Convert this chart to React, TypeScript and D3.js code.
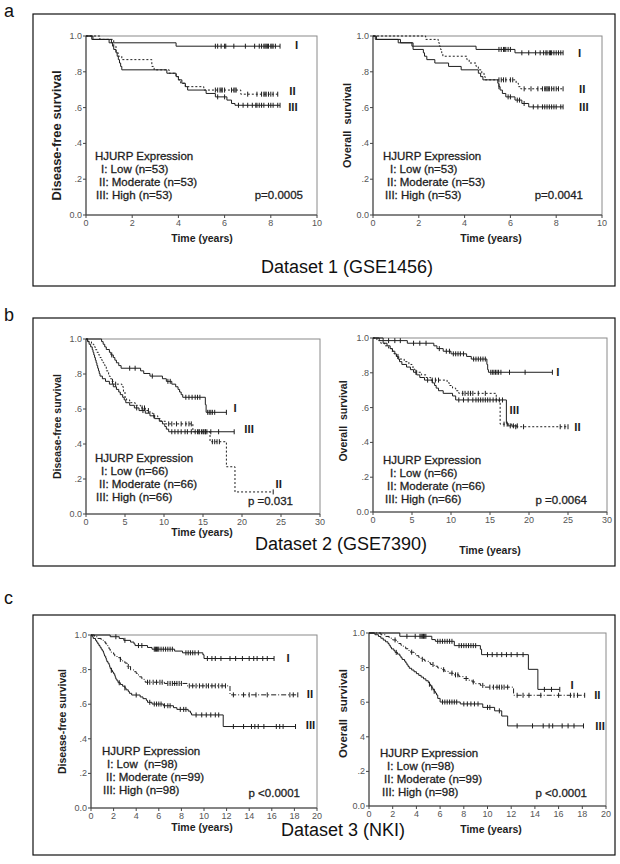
import React from 'react';
import * as d3 from 'd3';

type Step = [number, number];

// ---------- Panel a (GSE1456) ----------
const aDfsI_steps: Step[] = [[0.25, 0.981], [1.0, 0.962], [3.9, 0.943]];
const aDfsI_cens = [5.6, 5.7, 5.85, 6.0, 6.05, 6.4, 6.9, 7.3, 7.5, 7.6, 7.7, 7.75, 7.8, 7.85, 7.9, 8.0, 8.05, 8.1, 8.2, 8.4];
const aDfsII_steps: Step[] = [[0.6, 0.981], [1.2, 0.943], [1.3, 0.906], [1.4, 0.887], [1.55, 0.868], [2.85, 0.83], [2.95, 0.811], [3.6, 0.792], [3.9, 0.773], [4.0, 0.755], [4.1, 0.736], [4.3, 0.717], [5.1, 0.698], [6.7, 0.675]];
const aDfsII_cens = [5.6, 5.7, 5.8, 5.85, 5.9, 6.0, 6.3, 6.4, 6.45, 6.5, 7.0, 7.4, 7.6, 7.7, 7.75, 7.8, 7.9, 8.0, 8.1, 8.3];
const aDfsIII_steps: Step[] = [[0.3, 0.981], [1.1, 0.962], [1.15, 0.943], [1.2, 0.925], [1.3, 0.906], [1.35, 0.887], [1.4, 0.868], [1.45, 0.849], [1.5, 0.83], [1.55, 0.811], [3.5, 0.792], [3.9, 0.773], [4.0, 0.755], [4.15, 0.736], [4.3, 0.717], [4.4, 0.698], [5.2, 0.679], [5.6, 0.66], [6.1, 0.642], [6.3, 0.623], [6.45, 0.613]];
const aDfsIII_cens = [5.7, 6.0, 6.6, 6.8, 7.0, 7.2, 7.35, 7.4, 7.5, 7.6, 7.7, 7.9, 8.0, 8.1, 8.3, 8.4];

const aOsI_steps: Step[] = [[0.15, 0.981], [1.2, 0.962], [1.75, 0.943], [4.5, 0.925], [6.2, 0.906]];
const aOsI_cens = [5.5, 5.6, 5.7, 5.75, 5.8, 5.9, 6.0, 6.5, 6.8, 7.1, 7.3, 7.45, 7.55, 7.6, 7.7, 7.75, 7.8, 7.9, 8.0, 8.1, 8.2, 8.3];
const aOsII_steps: Step[] = [[2.3, 0.981], [2.85, 0.962], [2.9, 0.943], [2.95, 0.925], [3.0, 0.906], [3.05, 0.887], [4.1, 0.868], [4.2, 0.849], [4.5, 0.83], [4.6, 0.811], [4.75, 0.792], [4.85, 0.773], [4.9, 0.755], [6.25, 0.736], [6.35, 0.717], [6.45, 0.705]];
const aOsII_cens = [5.5, 5.6, 5.7, 5.8, 6.0, 6.1, 6.6, 6.9, 7.2, 7.4, 7.5, 7.55, 7.6, 7.65, 7.7, 7.8, 7.9, 8.0, 8.1, 8.3];
const aOsIII_steps: Step[] = [[0.1, 0.981], [1.1, 0.962], [1.7, 0.943], [1.75, 0.925], [2.2, 0.906], [2.25, 0.887], [2.35, 0.868], [2.7, 0.849], [3.3, 0.83], [3.85, 0.811], [4.6, 0.792], [4.7, 0.773], [4.8, 0.755], [5.45, 0.736], [5.5, 0.717], [5.55, 0.698], [5.65, 0.679], [5.8, 0.66], [6.2, 0.642], [6.5, 0.623], [6.8, 0.604]];
const aOsIII_cens = [5.5, 5.9, 6.0, 6.3, 6.4, 6.6, 7.0, 7.2, 7.4, 7.5, 7.6, 7.7, 7.8, 7.9, 8.0, 8.2, 8.3];

// ---------- Panel b (GSE7390) ----------
const bDfsI_steps: Step[] = [[2.0, 0.985], [2.2, 0.97], [2.4, 0.955], [2.6, 0.94], [3.0, 0.924], [3.2, 0.909], [3.5, 0.894], [3.7, 0.879], [3.9, 0.864], [4.2, 0.848], [4.5, 0.833], [7.0, 0.818], [7.4, 0.803], [8.2, 0.788], [9.8, 0.773], [10.3, 0.758], [11.0, 0.742], [11.5, 0.727], [11.8, 0.712], [12.0, 0.697], [12.2, 0.682], [12.4, 0.667], [15.3, 0.625], [15.4, 0.581]];
const bDfsI_cens = [3.3, 5.6, 6.3, 8.5, 10.5, 10.8, 12.8, 13.2, 13.6, 14.0, 14.3, 14.6, 15.6, 15.8, 16.0, 16.2, 16.5, 18.0];
const bDfsII_steps: Step[] = [[0.3, 0.985], [0.7, 0.97], [1.0, 0.955], [1.2, 0.939], [1.4, 0.924], [1.6, 0.909], [1.8, 0.894], [2.0, 0.879], [2.2, 0.864], [2.4, 0.848], [2.6, 0.818], [2.9, 0.788], [3.1, 0.773], [3.3, 0.758], [3.5, 0.742], [4.6, 0.727], [4.8, 0.697], [5.0, 0.667], [5.2, 0.652], [5.6, 0.636], [6.3, 0.621], [7.0, 0.606], [7.6, 0.591], [8.2, 0.576], [8.6, 0.561], [9.2, 0.545], [9.6, 0.53], [10.2, 0.515], [13.7, 0.47], [15.9, 0.413], [18.0, 0.27], [19.1, 0.126]];
const bDfsII_cens = [3.4, 3.8, 7.2, 7.5, 8.0, 8.7, 10.6, 11.0, 11.6, 12.2, 12.8, 13.2, 13.5, 14.5, 15.0, 15.3, 16.2, 16.5, 16.8, 17.1, 24.0];
const bDfsIII_steps: Step[] = [[0.2, 0.985], [0.4, 0.97], [0.6, 0.955], [0.8, 0.939], [0.9, 0.924], [1.0, 0.909], [1.1, 0.894], [1.2, 0.879], [1.3, 0.864], [1.4, 0.848], [1.5, 0.833], [1.6, 0.818], [1.7, 0.803], [1.8, 0.788], [2.1, 0.773], [2.5, 0.758], [3.0, 0.742], [3.5, 0.727], [3.9, 0.712], [4.2, 0.697], [4.4, 0.682], [4.7, 0.667], [4.9, 0.652], [5.1, 0.636], [5.6, 0.621], [6.2, 0.606], [6.8, 0.591], [7.6, 0.576], [8.2, 0.561], [8.8, 0.545], [9.4, 0.53], [9.8, 0.515], [10.1, 0.5], [10.3, 0.485], [10.6, 0.47]];
const bDfsIII_cens = [6.5, 7.3, 11.0, 11.4, 11.8, 12.2, 12.7, 13.0, 13.5, 14.0, 14.3, 14.5, 14.8, 15.1, 15.3, 15.5, 16.0, 17.0, 19.0];

const bOsI_steps: Step[] = [[1.3, 0.985], [4.4, 0.97], [7.8, 0.955], [8.2, 0.939], [9.0, 0.924], [10.0, 0.909], [12.0, 0.894], [12.6, 0.879], [14.6, 0.848], [14.7, 0.818], [14.8, 0.803]];
const bOsI_cens = [2.0, 2.8, 3.5, 5.2, 6.0, 6.8, 8.5, 9.4, 9.8, 10.3, 10.6, 10.9, 11.2, 11.6, 12.9, 13.2, 13.5, 13.8, 14.1, 14.4, 15.1, 15.3, 15.5, 15.7, 15.9, 16.1, 16.4, 17.5, 19.5, 23.0];
const bOsII_steps: Step[] = [[0.5, 0.985], [1.0, 0.97], [1.5, 0.955], [2.0, 0.939], [2.4, 0.924], [2.7, 0.909], [3.0, 0.894], [3.3, 0.879], [4.0, 0.864], [4.6, 0.848], [5.0, 0.833], [5.3, 0.818], [5.6, 0.803], [6.2, 0.788], [6.8, 0.773], [7.4, 0.758], [9.5, 0.742], [9.8, 0.727], [10.2, 0.712], [10.6, 0.697], [11.0, 0.682], [15.8, 0.64], [16.3, 0.505], [17.8, 0.49]];
const bOsII_cens = [3.2, 7.6, 8.0, 8.4, 11.5, 11.8, 12.2, 12.5, 12.8, 13.5, 14.4, 16.8, 17.2, 18.3, 19.3, 24.0, 24.6, 25.0];
const bOsIII_steps: Step[] = [[0.8, 0.985], [1.3, 0.97], [1.8, 0.955], [2.2, 0.939], [2.5, 0.924], [2.8, 0.909], [3.0, 0.894], [3.2, 0.879], [3.4, 0.864], [3.7, 0.848], [4.3, 0.833], [4.8, 0.818], [5.2, 0.803], [5.6, 0.788], [6.0, 0.773], [6.6, 0.758], [7.6, 0.742], [7.9, 0.727], [8.1, 0.712], [8.4, 0.697], [9.0, 0.682], [10.2, 0.667], [10.6, 0.644], [17.1, 0.51], [17.3, 0.495]];
const bOsIII_cens = [5.5, 7.0, 11.0, 11.6, 12.2, 12.8, 13.2, 13.5, 13.8, 14.1, 14.4, 14.7, 15.0, 15.4, 15.8, 16.2, 16.6, 17.6, 18.0, 18.5];

// ---------- Panel c (NKI) ----------
const cDfsI_steps: Step[] = [[1.7, 0.99], [2.5, 0.98], [2.9, 0.969], [3.5, 0.959], [3.8, 0.949], [3.9, 0.939], [5.0, 0.928], [5.4, 0.918], [7.4, 0.907], [8.1, 0.897], [9.9, 0.886], [10.0, 0.864]];
const cDfsI_cens = [2.2, 3.0, 4.2, 4.5, 5.6, 5.7, 5.8, 5.9, 6.0, 6.2, 6.4, 6.6, 6.8, 7.0, 7.2, 8.4, 8.6, 8.8, 9.0, 9.2, 9.5, 10.3, 10.7, 11.0, 11.5, 12.3, 12.8, 13.4, 14.0, 14.4, 14.7, 15.2, 15.6, 16.2];
const cDfsII_steps: Step[] = [[0.3, 0.99], [0.6, 0.98], [0.9, 0.97], [1.1, 0.96], [1.3, 0.949], [1.4, 0.939], [1.5, 0.929], [1.6, 0.919], [1.7, 0.909], [1.8, 0.899], [2.0, 0.889], [2.1, 0.879], [2.3, 0.869], [2.6, 0.859], [2.8, 0.848], [3.0, 0.838], [3.2, 0.818], [3.5, 0.798], [3.8, 0.788], [4.0, 0.778], [4.2, 0.768], [4.3, 0.758], [4.5, 0.747], [4.7, 0.737], [4.8, 0.727], [6.5, 0.72], [8.5, 0.706], [12.3, 0.654]];
const cDfsII_cens = [2.6, 3.3, 5.0, 5.2, 5.5, 5.8, 6.1, 6.3, 6.8, 7.0, 7.2, 7.4, 7.6, 7.8, 8.0, 8.7, 9.0, 9.3, 9.6, 9.9, 10.2, 10.4, 10.7, 11.0, 11.3, 11.6, 11.9, 12.6, 13.5, 14.0, 14.6, 15.6, 17.6, 17.9, 18.3];
const cDfsIII_steps: Step[] = [[0.1, 0.99], [0.2, 0.98], [0.4, 0.969], [0.5, 0.959], [0.6, 0.949], [0.7, 0.939], [0.8, 0.929], [0.9, 0.918], [1.0, 0.908], [1.1, 0.898], [1.15, 0.888], [1.2, 0.878], [1.3, 0.867], [1.35, 0.857], [1.4, 0.847], [1.5, 0.837], [1.6, 0.827], [1.65, 0.816], [1.7, 0.806], [1.8, 0.796], [1.9, 0.786], [2.0, 0.776], [2.1, 0.765], [2.15, 0.755], [2.2, 0.745], [2.3, 0.735], [2.4, 0.724], [2.6, 0.714], [2.8, 0.704], [3.0, 0.694], [3.1, 0.683], [3.3, 0.673], [3.4, 0.663], [3.6, 0.653], [4.35, 0.642], [4.6, 0.632], [4.9, 0.622], [5.0, 0.611], [5.4, 0.601], [6.4, 0.591], [7.3, 0.58], [7.6, 0.57], [8.6, 0.56], [8.8, 0.549], [8.9, 0.538], [11.7, 0.471]];
const cDfsIII_cens = [1.8, 2.5, 3.0, 4.0, 5.2, 5.6, 5.8, 6.0, 6.2, 6.5, 6.8, 7.0, 7.9, 8.2, 8.4, 9.3, 9.8, 10.2, 10.6, 11.0, 11.3, 12.6, 13.5, 14.2, 14.5, 14.8, 15.3, 16.4, 16.7, 17.0, 18.1];

const cOsI_steps: Step[] = [[2.6, 0.981], [5.3, 0.962], [5.6, 0.952], [7.2, 0.927], [9.4, 0.906], [9.5, 0.875], [13.45, 0.79], [14.25, 0.674]];
const cOsI_cens = [3.2, 3.9, 4.3, 4.4, 4.5, 4.6, 4.7, 4.8, 5.8, 6.0, 6.2, 6.4, 6.6, 6.8, 7.0, 7.6, 7.8, 8.0, 8.2, 8.4, 8.6, 8.8, 9.0, 10.0, 10.4, 10.8, 11.2, 11.6, 12.0, 12.5, 13.0, 14.8, 15.4, 16.1];
const cOsII_steps: Step[] = [[1.0, 0.99], [1.4, 0.98], [1.7, 0.97], [2.0, 0.96], [2.3, 0.949], [2.5, 0.939], [2.7, 0.929], [2.9, 0.919], [3.1, 0.909], [3.3, 0.899], [3.5, 0.889], [3.8, 0.879], [4.0, 0.869], [4.2, 0.859], [4.4, 0.848], [4.7, 0.838], [5.0, 0.828], [5.2, 0.818], [5.5, 0.808], [5.8, 0.798], [6.1, 0.788], [6.4, 0.778], [6.7, 0.768], [7.1, 0.758], [7.6, 0.748], [8.0, 0.737], [8.4, 0.727], [8.7, 0.717], [9.0, 0.707], [9.4, 0.697], [9.8, 0.687], [12.2, 0.64]];
const cOsII_cens = [2.2, 3.6, 4.5, 5.4, 6.3, 7.0, 7.3, 7.5, 8.2, 8.8, 9.6, 10.2, 10.5, 10.8, 11.0, 11.2, 11.4, 11.7, 12.5, 13.0, 13.5, 14.5, 16.0, 17.0, 17.3, 17.6, 18.2];
const cOsIII_steps: Step[] = [[0.5, 0.99], [0.8, 0.98], [1.0, 0.97], [1.2, 0.959], [1.4, 0.949], [1.6, 0.939], [1.7, 0.929], [1.8, 0.918], [1.9, 0.908], [2.1, 0.898], [2.2, 0.888], [2.4, 0.878], [2.6, 0.867], [2.7, 0.857], [2.8, 0.847], [3.0, 0.837], [3.1, 0.827], [3.2, 0.816], [3.3, 0.806], [3.4, 0.796], [3.6, 0.786], [3.8, 0.776], [4.0, 0.765], [4.2, 0.755], [4.4, 0.745], [4.6, 0.735], [4.8, 0.724], [5.0, 0.714], [5.1, 0.704], [5.2, 0.694], [5.3, 0.683], [5.4, 0.673], [5.5, 0.663], [5.6, 0.653], [5.7, 0.642], [5.8, 0.622], [6.0, 0.601], [7.7, 0.59], [9.6, 0.57], [10.6, 0.55], [11.2, 0.52], [11.7, 0.463]];
const cOsIII_cens = [2.3, 5.1, 5.3, 5.5, 6.2, 6.4, 6.6, 6.8, 7.0, 7.2, 7.4, 8.0, 8.3, 8.6, 8.9, 9.2, 10.0, 10.2, 11.0, 12.5, 13.8, 14.7, 15.2, 15.5, 16.3, 16.8, 17.3, 18.1];

// ---------- ticks & texts ----------
const yTickValues = [0, 0.2, 0.4, 0.6, 0.8, 1.0];
const yTickLabels = ['0.0', '.2', '.4', '.6', '.8', '1.0'];
const yTickLabelsNkiOs = ['0.0', '.2', '4', '6', '8', '1.0'];
const xTicksA = [0, 2, 4, 6, 8, 10];
const xTicksB = [0, 5, 10, 15, 20, 25, 30];
const xTicksC = [0, 2, 4, 6, 8, 10, 12, 14, 16, 18, 20];
const groupLabels = ['I', 'II', 'III'];
const legendA = ['HJURP Expression', 'I: Low (n=53)', 'II: Moderate (n=53)', 'III: High (n=53)'];
const legendB = ['HJURP Expression', 'I: Low (n=66)', 'II: Moderate (n=66)', 'III: High (n=66)'];
const legendC1 = ['HJURP Expression', 'I: Low  (n=98)', 'II: Moderate (n=99)', 'III: High (n=98)'];
const legendC2 = ['HJURP Expression', 'I: Low (n=98)', 'II: Moderate (n=99)', 'III: High (n=98)'];
const pValues = ['p=0.0005', 'p=0.0041', 'p =0.031', 'p =0.0064', 'p <0.0001', 'p <0.0001'];
const datasetTitles = ['Dataset 1 (GSE1456)', 'Dataset 2 (GSE7390)', 'Dataset 3 (NKI)'];
const panelLetters = ['a', 'b', 'c'];

const FONT = "'Liberation Sans', Arial, Helvetica, sans-serif";
const INK = '#1e1e1e';

interface Curve { steps: Step[]; cens: number[]; dash?: string; lt: number; ls: number }
interface PlotCfg {
  x0: number; x1: number; yTop: number; yBot: number; xMax: number; xTicks: number[];
  yLabels: string[]; yTitle: string; yTitleSize: number; yTitleX: number; yTitleDy: number;
  curves: Curve[]; legend: string[]; legX: number; legY: number; legOff: number[];
  pText: string; pRight: number; pY: number; timeX: number; timeY: number;
}

function survAt(steps: Step[], t: number) {
  let s = 1;
  for (const [tt, ss] of steps) { if (tt <= t) s = ss; else break; }
  return s;
}

function Plot({ cfg }: { cfg: PlotCfg }) {
  const x = d3.scaleLinear().domain([0, cfg.xMax]).range([cfg.x0, cfg.x1]);
  const y = d3.scaleLinear().domain([0, 1]).range([cfg.yBot, cfg.yTop]);
  const line = d3.line<[number, number]>().x(d => x(d[0])).y(d => y(d[1])).curve(d3.curveStepAfter);
  const yMid = (cfg.yTop + cfg.yBot) / 2;
  return (
    <g>
      <rect x={cfg.x0} y={cfg.yTop} width={cfg.x1 - cfg.x0} height={cfg.yBot - cfg.yTop} fill="none" stroke="#8a8a8a" strokeWidth={1} />
      <line x1={cfg.x0} x2={cfg.x0} y1={cfg.yTop} y2={cfg.yBot} stroke="#444" />
      <line x1={cfg.x0} x2={cfg.x1} y1={cfg.yBot} y2={cfg.yBot} stroke="#444" />
      {yTickValues.map((v, i) => (
        <g key={'y' + i}>
          <line x1={cfg.x0 - 3} x2={cfg.x0} y1={y(v)} y2={y(v)} stroke="#444" />
          <text x={cfg.x0 - 4} y={y(v) + 3} textAnchor="end" fontSize={9} fill="#555" fontFamily={FONT}>{cfg.yLabels[i]}</text>
        </g>
      ))}
      {cfg.xTicks.map((v, i) => (
        <g key={'x' + i}>
          <line x1={x(v)} x2={x(v)} y1={cfg.yBot} y2={cfg.yBot + 3} stroke="#444" />
          <text x={x(v)} y={cfg.yBot + 11} textAnchor="middle" fontSize={9} fill="#555" fontFamily={FONT}>{v}</text>
        </g>
      ))}
      {cfg.curves.map((c, i) => {
        const last = c.steps.length ? c.steps[c.steps.length - 1][0] : 0;
        const end = Math.max(last, ...c.cens);
        const pts: [number, number][] = [[0, 1], ...c.steps.map(s => [s[0], s[1]] as [number, number]), [end, survAt(c.steps, end)]];
        return (
          <g key={'c' + i}>
            <path d={line(pts) || ''} fill="none" stroke={INK} strokeWidth={1} strokeDasharray={c.dash} />
            {c.cens.map((t, j) => (
              <line key={j} x1={x(t)} x2={x(t)} y1={y(survAt(c.steps, t)) - 2.5} y2={y(survAt(c.steps, t)) + 2.5} stroke={INK} strokeWidth={1} />
            ))}
            <text x={x(c.lt)} y={y(c.ls) + 4} fontSize={11.5} fontWeight="bold" fill={INK} fontFamily={FONT}>{groupLabels[i]}</text>
          </g>
        );
      })}
      <text transform={`translate(${cfg.yTitleX},${yMid + cfg.yTitleDy}) rotate(-90)`} textAnchor="middle" fontSize={cfg.yTitleSize} fontWeight="bold" fill={INK} fontFamily={FONT} style={{ whiteSpace: 'pre' }}>{cfg.yTitle}</text>
      <text x={cfg.timeX} y={cfg.timeY} textAnchor="middle" fontSize={10.5} fontWeight="bold" fill={INK} fontFamily={FONT}>Time (years)</text>
      {cfg.legend.map((t, i) => (
        <text key={'l' + i} x={cfg.legX + cfg.legOff[i]} y={cfg.legY + i * 13} fontSize={11.5} fill={INK} stroke={INK} strokeWidth={0.3} fontFamily={FONT} style={{ whiteSpace: 'pre' }}>{t}</text>
      ))}
      <text x={cfg.pRight} y={cfg.pY} textAnchor="end" fontSize={11.5} fill={INK} stroke={INK} strokeWidth={0.3} fontFamily={FONT}>{cfg.pText}</text>
    </g>
  );
}

const dotted = '2,2';
const dashDot = '5,2,1,2';

const plots: PlotCfg[] = [
  { x0: 86, x1: 317, yTop: 36, yBot: 215, xMax: 10, xTicks: xTicksA, yLabels: yTickLabels, yTitle: 'Disease-free survival', yTitleSize: 13, yTitleX: 61, yTitleDy: 10,
    curves: [
      { steps: aDfsI_steps, cens: aDfsI_cens, lt: 9.05, ls: 0.95 },
      { steps: aDfsII_steps, cens: aDfsII_cens, dash: dotted, lt: 8.8, ls: 0.69 },
      { steps: aDfsIII_steps, cens: aDfsIII_cens, lt: 8.75, ls: 0.605 }],
    legend: legendA, legX: 95, legY: 160, legOff: [0, 6, 4, 1], pText: pValues[0], pRight: 303, pY: 199, timeX: 202, timeY: 242 },
  { x0: 373, x1: 602, yTop: 36, yBot: 215, xMax: 10, xTicks: xTicksA, yLabels: yTickLabels, yTitle: 'Overall  survival', yTitleSize: 11, yTitleX: 351, yTitleDy: 0,
    curves: [
      { steps: aOsI_steps, cens: aOsI_cens, lt: 8.95, ls: 0.905 },
      { steps: aOsII_steps, cens: aOsII_cens, dash: dotted, lt: 9.0, ls: 0.705 },
      { steps: aOsIII_steps, cens: aOsIII_cens, lt: 9.0, ls: 0.605 }],
    legend: legendA, legX: 383, legY: 160, legOff: [0, 7, 4, 2], pText: pValues[1], pRight: 583, pY: 199, timeX: 491, timeY: 242 },
  { x0: 86, x1: 320, yTop: 339, yBot: 514, xMax: 30, xTicks: xTicksB, yLabels: yTickLabels, yTitle: 'Disease-free survival', yTitleSize: 10.5, yTitleX: 61, yTitleDy: 0,
    curves: [
      { steps: bDfsI_steps, cens: bDfsI_cens, lt: 18.9, ls: 0.605 },
      { steps: bDfsII_steps, cens: bDfsII_cens, dash: dotted, lt: 24.3, ls: 0.17 },
      { steps: bDfsIII_steps, cens: bDfsIII_cens, lt: 20.3, ls: 0.485 }],
    legend: legendB, legX: 95, legY: 462, legOff: [0, 6, 4, 1], pText: pValues[2], pRight: 293, pY: 505, timeX: 202, timeY: 536 },
  { x0: 373, x1: 607, yTop: 338, yBot: 512, xMax: 30, xTicks: xTicksB, yLabels: yTickLabels, yTitle: 'Overall  survival', yTitleSize: 10.5, yTitleX: 347, yTitleDy: -4,
    curves: [
      { steps: bOsI_steps, cens: bOsI_cens, lt: 23.5, ls: 0.805 },
      { steps: bOsII_steps, cens: bOsII_cens, dash: dotted, lt: 25.8, ls: 0.49 },
      { steps: bOsIII_steps, cens: bOsIII_cens, lt: 17.5, ls: 0.585 }],
    legend: legendB, legX: 383, legY: 464, legOff: [0, 7, 4, 2], pText: pValues[3], pRight: 587, pY: 504, timeX: 490, timeY: 554 },
  { x0: 91, x1: 317, yTop: 635, yBot: 808, xMax: 20, xTicks: xTicksC, yLabels: yTickLabels, yTitle: 'Disease-free survival', yTitleSize: 10.5, yTitleX: 66, yTitleDy: 0,
    curves: [
      { steps: cDfsI_steps, cens: cDfsI_cens, lt: 17.3, ls: 0.865 },
      { steps: cDfsII_steps, cens: cDfsII_cens, dash: dashDot, lt: 19.1, ls: 0.66 },
      { steps: cDfsIII_steps, cens: cDfsIII_cens, lt: 19.0, ls: 0.48 }],
    legend: legendC1, legX: 102, legY: 755, legOff: [0, 5, 4, 1], pText: pValues[4], pRight: 300, pY: 797, timeX: 202, timeY: 831 },
  { x0: 369, x1: 606, yTop: 633, yBot: 806, xMax: 20, xTicks: xTicksC, yLabels: yTickLabelsNkiOs, yTitle: 'Overall  survival', yTitleSize: 11.5, yTitleX: 347, yTitleDy: -6,
    curves: [
      { steps: cOsI_steps, cens: cOsI_cens, lt: 17.0, ls: 0.7 },
      { steps: cOsII_steps, cens: cOsII_cens, dash: dashDot, lt: 19.0, ls: 0.64 },
      { steps: cOsIII_steps, cens: cOsIII_cens, lt: 19.1, ls: 0.46 }],
    legend: legendC2, legX: 380, legY: 757, legOff: [0, 7, 4, 2], pText: pValues[5], pRight: 587, pY: 797, timeX: 491, timeY: 833 },
];

const boxes = [
  { top: 14, bottom: 286, letterY: 17, titleX: 347, titleY: 273 },
  { top: 318, bottom: 566, letterY: 321, titleX: 341, titleY: 550 },
  { top: 615, bottom: 855, letterY: 604, titleX: 343, titleY: 836 },
];

export default function App() {
  return (
    <svg width={620} height={864} viewBox="0 0 620 864" style={{ position: 'absolute', left: 0, top: 0, background: '#fff' }}>
      <rect x={0} y={0} width={620} height={864} fill="#fff" />
      {boxes.map((b, i) => (
        <g key={'b' + i}>
          <rect x={33} y={b.top} width={582} height={b.bottom - b.top} fill="none" stroke="#111" strokeWidth={1.2} />
          <text x={4} y={b.letterY} fontSize={18} fill="#111" fontFamily={FONT}>{panelLetters[i]}</text>
          <text x={b.titleX} y={b.titleY} textAnchor="middle" fontSize={18} fill="#111" fontFamily={FONT}>{datasetTitles[i]}</text>
        </g>
      ))}
      {plots.map((p, i) => <Plot key={i} cfg={p} />)}
    </svg>
  );
}
